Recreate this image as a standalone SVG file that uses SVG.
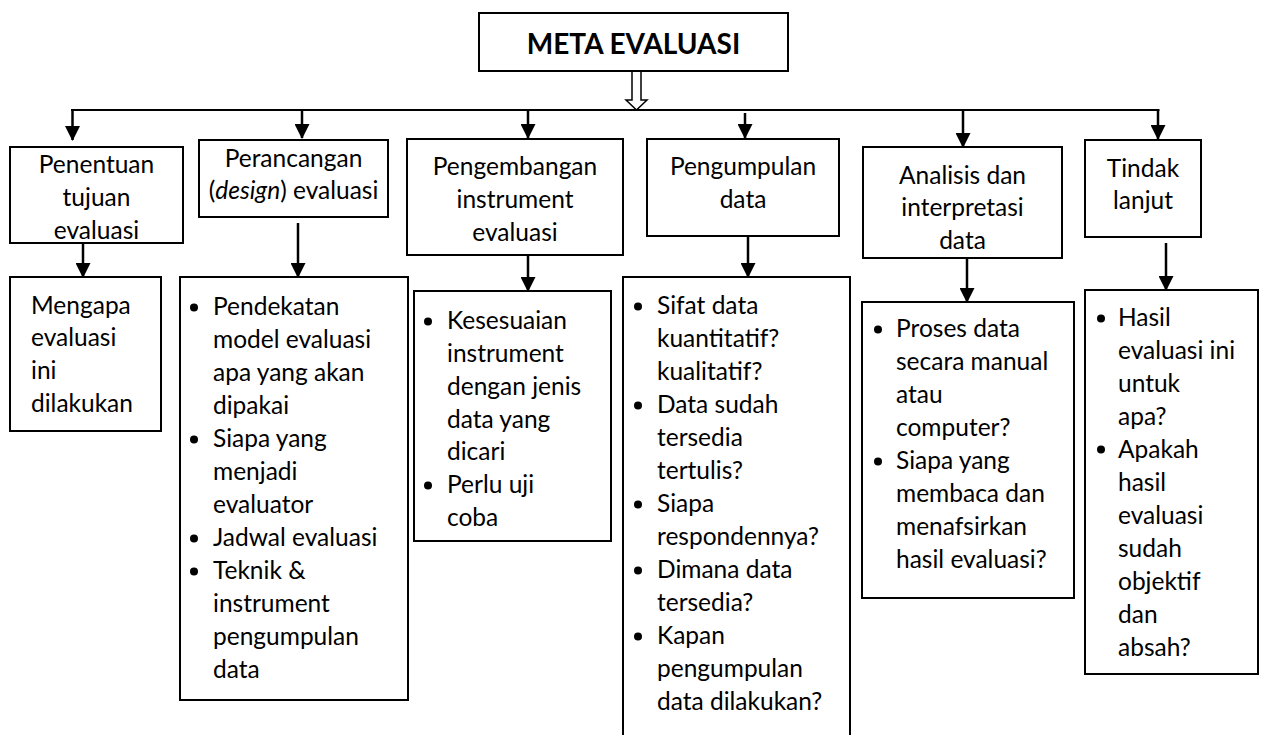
<svg xmlns="http://www.w3.org/2000/svg" width="1262" height="735" viewBox="0 0 1262 735">
<style>
.box{fill:#fff;stroke:#000;stroke-width:2}
.t{font-family:Lato,"Liberation Sans",sans-serif;font-size:24.5px;fill:#000}
.c{text-anchor:middle}
.b{fill:#000}
.con line,.con path{stroke:#000;stroke-width:2.5;fill:none}
</style>
<defs>
<marker id="ah" markerUnits="userSpaceOnUse" markerWidth="15" markerHeight="15" viewBox="0 0 15 15" refX="14" refY="7.5" orient="auto">
<path d="M0,0 L15,7.5 L0,15 z" fill="#000"/>
</marker>
<clipPath id="clip1"><rect x="10" y="147" width="173" height="95"/></clipPath>
<clipPath id="clip5"><rect x="863" y="147" width="199" height="103"/></clipPath>
</defs>

<g class="con" id="connectors">
<line x1="71" y1="110" x2="1159.5" y2="110" style="stroke-width:2"/>
<line x1="72.5" y1="110" x2="72.5" y2="140" marker-end="url(#ah)"/>
<line x1="302" y1="110" x2="302" y2="138" marker-end="url(#ah)"/>
<line x1="528" y1="110" x2="528" y2="138" marker-end="url(#ah)"/>
<line x1="745" y1="113" x2="745" y2="138" marker-end="url(#ah)"/>
<line x1="963" y1="110" x2="963" y2="147" marker-end="url(#ah)"/>
<line x1="1158" y1="110" x2="1158" y2="139" marker-end="url(#ah)"/>
<line x1="83" y1="243" x2="83" y2="277" marker-end="url(#ah)"/>
<line x1="298" y1="223" x2="298" y2="277" marker-end="url(#ah)"/>
<line x1="528" y1="255" x2="528" y2="291" marker-end="url(#ah)"/>
<line x1="748" y1="236" x2="748" y2="277" marker-end="url(#ah)"/>
<line x1="967" y1="258" x2="967" y2="302" marker-end="url(#ah)"/>
<line x1="1166" y1="243" x2="1166" y2="290" marker-end="url(#ah)"/>
<polygon points="632,71 641,71 641,100 647,100 636.5,110 626,100 632,100" style="fill:#fff;stroke:#000;stroke-width:1.5"/>
</g>

<g id="meta">
<rect class="box" x="479" y="13" width="309" height="58"/>
<text class="t c" x="633.5" y="54" style="font-weight:bold;font-size:28px">META EVALUASI</text>
</g>

<g id="n1">
<rect class="box" x="10" y="147" width="173" height="96"/>
<text class="t c" x="96.5" clip-path="url(#clip1)"><tspan x="96.5" y="173">Penentuan</tspan><tspan x="96.5" y="206">tujuan</tspan><tspan x="96.5" y="239">evaluasi</tspan></text>
</g>

<g id="n2">
<rect class="box" x="199" y="140" width="189" height="77"/>
<text class="t c"><tspan x="293.5" y="167">Perancangan</tspan><tspan x="293.5" y="199">(<tspan font-style="italic">design</tspan>) evaluasi</tspan></text>
</g>

<g id="n3">
<rect class="box" x="407" y="139" width="216" height="116"/>
<text class="t c"><tspan x="515" y="175">Pengembangan</tspan><tspan x="515" y="208">instrument</tspan><tspan x="515" y="241">evaluasi</tspan></text>
</g>

<g id="n4">
<rect class="box" x="647" y="139" width="192" height="97"/>
<text class="t c"><tspan x="743" y="175">Pengumpulan</tspan><tspan x="743" y="208">data</tspan></text>
</g>

<g id="n5">
<rect class="box" x="863" y="147" width="199" height="111"/>
<text class="t c" clip-path="url(#clip5)"><tspan x="962.5" y="184">Analisis dan</tspan><tspan x="962.5" y="216">interpretasi</tspan><tspan x="962.5" y="249">data</tspan></text>
</g>

<g id="n6">
<rect class="box" x="1085" y="140" width="116" height="97"/>
<text class="t c"><tspan x="1143" y="177">Tindak</tspan><tspan x="1143" y="209">lanjut</tspan></text>
</g>

<g id="d1">
<rect class="box" x="10" y="277" width="151" height="154"/>
<text class="t"><tspan x="31" y="314">Mengapa</tspan><tspan x="31" y="346">evaluasi</tspan><tspan x="31" y="379">ini</tspan><tspan x="31" y="412">dilakukan</tspan></text>
</g>

<g id="d2">
<rect class="box" x="180" y="277" width="228" height="423"/>
<circle class="b" cx="194" cy="307.5" r="4"/>
<circle class="b" cx="194" cy="439.5" r="4"/>
<circle class="b" cx="194" cy="538.5" r="4"/>
<circle class="b" cx="194" cy="571.5" r="4"/>
<text class="t"><tspan x="213" y="315">Pendekatan</tspan><tspan x="213" y="348">model evaluasi</tspan><tspan x="213" y="381">apa yang akan</tspan><tspan x="213" y="414">dipakai</tspan><tspan x="213" y="447">Siapa yang</tspan><tspan x="213" y="480">menjadi</tspan><tspan x="213" y="513">evaluator</tspan><tspan x="213" y="546">Jadwal evaluasi</tspan><tspan x="213" y="579">Teknik &amp;</tspan><tspan x="213" y="612">instrument</tspan><tspan x="213" y="645">pengumpulan</tspan><tspan x="213" y="678">data</tspan></text>
</g>

<g id="d3">
<rect class="box" x="414" y="291" width="197" height="250"/>
<circle class="b" cx="428" cy="321.5" r="4"/>
<circle class="b" cx="428" cy="485.5" r="4"/>
<text class="t"><tspan x="447" y="329">Kesesuaian</tspan><tspan x="447" y="362">instrument</tspan><tspan x="447" y="395">dengan jenis</tspan><tspan x="447" y="428">data yang</tspan><tspan x="447" y="460">dicari</tspan><tspan x="447" y="493">Perlu uji</tspan><tspan x="447" y="526">coba</tspan></text>
</g>

<g id="d4">
<rect class="box" x="623" y="277" width="227" height="470"/>
<circle class="b" cx="638" cy="306.5" r="4"/>
<circle class="b" cx="638" cy="405.5" r="4"/>
<circle class="b" cx="638" cy="504.5" r="4"/>
<circle class="b" cx="638" cy="570.5" r="4"/>
<circle class="b" cx="638" cy="636.5" r="4"/>
<text class="t"><tspan x="657" y="314">Sifat data</tspan><tspan x="657" y="347">kuantitatif?</tspan><tspan x="657" y="380">kualitatif?</tspan><tspan x="657" y="413">Data sudah</tspan><tspan x="657" y="446">tersedia</tspan><tspan x="657" y="479">tertulis?</tspan><tspan x="657" y="512">Siapa</tspan><tspan x="657" y="545">respondennya?</tspan><tspan x="657" y="578">Dimana data</tspan><tspan x="657" y="611">tersedia?</tspan><tspan x="657" y="644">Kapan</tspan><tspan x="657" y="677">pengumpulan</tspan><tspan x="657" y="710">data dilakukan?</tspan></text>
</g>

<g id="d5">
<rect class="box" x="862" y="302" width="212" height="296"/>
<circle class="b" cx="878" cy="329.5" r="4"/>
<circle class="b" cx="878" cy="461.5" r="4"/>
<text class="t"><tspan x="896" y="337">Proses data</tspan><tspan x="896" y="370">secara manual</tspan><tspan x="896" y="403">atau</tspan><tspan x="896" y="436">computer?</tspan><tspan x="896" y="469">Siapa yang</tspan><tspan x="896" y="502">membaca dan</tspan><tspan x="896" y="535">menafsirkan</tspan><tspan x="896" y="568">hasil evaluasi?</tspan></text>
</g>

<g id="d6">
<rect class="box" x="1085" y="290" width="173" height="384"/>
<circle class="b" cx="1101" cy="318.5" r="4"/>
<circle class="b" cx="1101" cy="449.5" r="4"/>
<text class="t"><tspan x="1118" y="326">Hasil</tspan><tspan x="1118" y="359">evaluasi ini</tspan><tspan x="1118" y="392">untuk</tspan><tspan x="1118" y="425">apa?</tspan><tspan x="1118" y="458">Apakah</tspan><tspan x="1118" y="491">hasil</tspan><tspan x="1118" y="524">evaluasi</tspan><tspan x="1118" y="557">sudah</tspan><tspan x="1118" y="590">objektif</tspan><tspan x="1118" y="623">dan</tspan><tspan x="1118" y="656">absah?</tspan></text>
</g>
</svg>
